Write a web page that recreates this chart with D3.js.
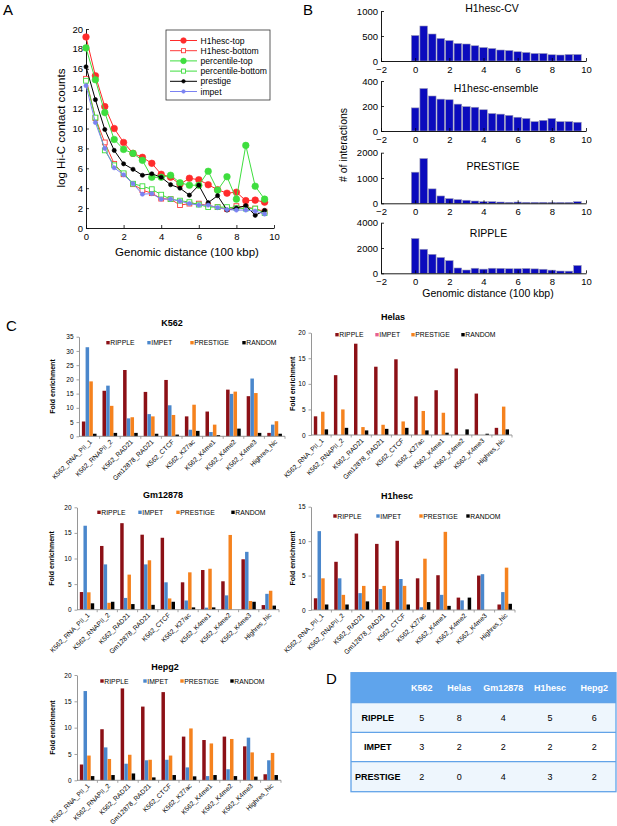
<!DOCTYPE html>
<html><head><meta charset="utf-8">
<script src="https://cdn.jsdelivr.net/npm/d3@7"></script>
<style>
body{margin:0;background:#fff}
svg{display:block}
text{font-family:"Liberation Sans",Arial,Helvetica,sans-serif}
</style>
</head><body>
<svg id="c" width="617" height="826"></svg>
<script>
// ---------------- DATA ----------------
// Panel A
const distA = [0,0.5,1,1.5,2,2.5,3,3.5,4,4.5,5,5.5,6,6.5,7,7.5,8,8.5,9,9.5];
const h1hescTop    = [19.2,15.3,12.2,10.0,8.6,7.5,7.1,6.5,5.4,5.1,4.4,5.0,4.85,4.35,3.85,3.5,3.6,2.75,2.8,2.6];
const h1hescBottom = [15.0,11.05,8.6,6.45,5.4,4.4,3.8,3.5,2.95,2.9,2.3,2.45,2.45,2.25,2.1,1.9,2.2,2.1,1.95,1.65];
const percTop      = [18.1,14.9,11.6,8.9,7.9,7.5,6.8,5.1,5.1,5.3,4.55,4.3,4.3,5.7,3.8,5.15,2.9,8.3,4.2,2.9];
const percBottom   = [14.8,11.1,7.8,6.3,5.5,4.45,4.2,3.9,3.35,2.9,2.75,2.6,2.35,2.1,2.1,2.1,2.0,1.95,1.95,1.5];
const prestigeA    = [16.2,12.9,9.9,7.8,6.45,5.9,5.3,5.45,5.1,4.35,4.0,3.3,4.3,2.55,3.25,1.8,2.0,2.25,1.27,1.77];
const impetA       = [14.3,10.6,8.0,6.05,5.35,4.45,3.4,3.45,2.9,2.9,2.7,2.45,2.3,2.3,2.05,1.85,1.8,1.8,1.7,1.4];
const aXTicks = [0,2,4,6,8,10];
const aYTicks = [0,2,4,6,8,10,12,14,16,18,20];

// Panel B
const distB = [0,0.5,1,1.5,2,2.5,3,3.5,4,4.5,5,5.5,6,6.5,7,7.5,8,8.5,9,9.5];
const cvCounts       = [510,700,540,450,410,350,340,305,270,250,220,210,185,170,150,150,125,120,130,130];
const ensembleCounts = [185,340,280,255,250,215,195,190,170,140,135,125,110,100,75,85,100,75,75,70];
const prestigeCounts = [1230,1770,570,290,185,145,120,90,65,65,50,40,50,40,40,40,35,35,35,65];
const rippleCountsB  = [2750,1900,1500,1250,1000,420,260,400,330,400,390,360,360,380,350,320,250,180,170,620];
const bXTicks = [-2,0,2,4,6,8,10];
const cvTicks = [0,500,1000];
const ensembleTicks = [0,200,400];
const prestigeTicks = [0,1000,2000];
const rippleTicksB = [0,2000,4000];

// Panel C
const categories = ["K562_RNA_PII_1","K562_RNAPII_2","K562_RAD21","Gm12878_RAD21","K562_CTCF","K562_K27ac","K562_K4me1","K562_K4me2","K562_K4me3","Highres_hic"];
const methods = ["RIPPLE","IMPET","PRESTIGE","RANDOM"];
const k562Ripple   = [5.2,16.0,23.3,15.6,19.8,7.0,8.7,16.4,14.1,1.2];
const k562Impet    = [31.3,17.8,6.3,7.8,10.9,2.3,1.5,14.9,20.3,4.1];
const k562Prestige = [19.3,10.7,6.7,7.0,7.5,11.1,4.1,15.7,15.2,5.3];
const k562Random   = [0.9,1.2,1.2,0.9,0.6,1.9,0.4,2.7,1.2,0.9];
const helasRipple   = [3.65,11.7,17.85,13.35,14.8,7.55,8.75,13.0,8.1,1.4];
const helasImpet    = [0,0,0,0,0,0,0,0,0,0];
const helasPrestige = [4.55,5.0,1.55,2.0,2.65,4.7,4.35,0,0,5.55];
const helasRandom   = [1.1,1.4,0.9,1.2,1.4,0.9,0.45,1.1,0.25,1.1];
const gmRipple   = [3.45,12.45,16.9,14.65,14.05,5.35,7.75,5.55,9.85,0.9];
const gmImpet    = [16.4,8.85,2.3,8.85,5.35,1.8,0.4,2.8,11.3,3.1];
const gmPrestige = [3.4,1.35,6.85,9.65,2.2,7.3,8.0,14.6,1.7,3.7];
const gmRandom   = [1.25,1.55,1.1,0.95,1.55,0.45,0.45,0,1.55,0.8];
const h1Ripple   = [1.7,7.0,11.1,9.6,10.05,4.6,5.05,1.8,5.0,0.8];
const h1Impet    = [11.45,4.6,2.45,3.05,4.5,0.4,2.2,1.4,5.2,2.6];
const h1Prestige = [4.6,2.2,3.5,3.5,3.5,7.45,11.35,0,0,6.15];
const h1Random   = [0.8,0.8,1.25,1.15,0.8,1.15,0.6,1.8,0,0.9];
const hepRipple   = [3.0,9.7,17.45,14.0,16.75,8.3,7.65,8.3,6.45,1.15];
const hepImpet    = [16.95,6.25,3.15,3.8,3.9,2.45,0.8,2.1,8.1,3.8];
const hepPrestige = [4.7,4.05,4.85,3.9,4.7,9.85,7.0,7.85,5.3,5.2];
const hepRandom   = [0.8,1.0,1.3,0.55,1.0,0.75,1.0,0.8,0.7,1.0];
const ticks35 = [0,5,10,15,20,25,30,35];
const ticks20 = [0,5,10,15,20];
const ticks15 = [0,5,10,15];

// Panel D
const tableCols = ["K562","Helas","Gm12878","H1hesc","Hepg2"];
const tableRows = ["RIPPLE","IMPET","PRESTIGE"];
const rippleWins   = [5,8,4,5,6];
const impetWins    = [3,2,2,2,2];
const prestigeWins = [2,0,4,3,2];

// ---------------- DRAWING ----------------
const svg = d3.select("#c");
svg.append("rect").attr("width",617).attr("height",826).attr("fill","#fff");

function styleAxis(g, fs, col){
  g.select(".domain").attr("stroke", col||"#000").attr("stroke-width",0.9);
  g.selectAll(".tick line").attr("stroke", col||"#000").attr("stroke-width",0.8);
  g.selectAll(".tick text").attr("font-size", fs).attr("fill","#000")
   .attr("font-family","Liberation Sans, Arial, sans-serif");
}

// panel letters
[["A",3,15],["B",303,15],["C",6,331],["D",326,684]].forEach(([t,x,y])=>{
  svg.append("text").attr("x",x).attr("y",y).attr("font-size",15).text(t);
});

// ---------- Panel A ----------
(function(){
  const x = d3.scaleLinear().domain([0,10]).range([86,274]);
  const y = d3.scaleLinear().domain([0,20]).range([228,29]);
  const g = svg.append("g");
  const gx = g.append("g").attr("transform","translate(0,228)")
    .call(d3.axisBottom(x).tickValues(aXTicks).tickSize(-3).tickSizeOuter(0).tickPadding(5));
  styleAxis(gx, 9.5);
  const gy = g.append("g").attr("transform","translate(86,0)")
    .call(d3.axisLeft(y).tickValues(aYTicks).tickSize(-3).tickSizeOuter(0).tickPadding(3));
  styleAxis(gy, 9.5);
  g.append("text").attr("x",187).attr("y",256).attr("text-anchor","middle").attr("font-size",11.5)
    .text("Genomic distance (100 kbp)");
  g.append("text").attr("transform","translate(65,128) rotate(-90)").attr("text-anchor","middle")
    .attr("font-size",11.5).text("log Hi-C contact counts");

  const series = [
    {name:"H1hesc-top", vals:h1hescTop, color:"#ff2b2b", m:"circle", fill:true, r:3.3},
    {name:"H1hesc-bottom", vals:h1hescBottom, color:"#ff3b3b", m:"square", fill:false, r:2.4},
    {name:"percentile-top", vals:percTop, color:"#3ede3e", m:"circle", fill:true, r:3.3},
    {name:"percentile-bottom", vals:percBottom, color:"#3ede3e", m:"square", fill:false, r:2.4},
    {name:"prestige", vals:prestigeA, color:"#000", m:"circle", fill:true, r:2.1},
    {name:"impet", vals:impetA, color:"#7b82f2", m:"circle", fill:true, r:2.1}
  ];
  const line = d3.line().x((d,i)=>x(distA[i])).y(d=>y(d));
  function marker(sel, s, cx, cy, k){
    const r = s.r*(k||1);
    if(s.m==="circle"){
      sel.append("circle").attr("cx",cx).attr("cy",cy).attr("r",r).attr("fill",s.color).attr("stroke",s.color).attr("stroke-width",0.6);
    } else {
      sel.append("rect").attr("x",cx-r).attr("y",cy-r).attr("width",2*r).attr("height",2*r)
        .attr("fill","#fff").attr("stroke",s.color).attr("stroke-width",0.9);
    }
  }
  series.forEach(s=>{
    const sg = g.append("g");
    sg.append("path").attr("d",line(s.vals)).attr("fill","none").attr("stroke",s.color).attr("stroke-width",1);
    s.vals.forEach((v,i)=>marker(sg,s,x(distA[i]),y(v)));
  });
  // legend
  const lg = g.append("g");
  lg.append("rect").attr("x",166).attr("y",30).attr("width",104).attr("height",70)
    .attr("fill","#fff").attr("stroke","#333").attr("stroke-width",0.8);
  series.forEach((s,i)=>{
    const yy = 40.5 + i*10.2;
    lg.append("line").attr("x1",170).attr("x2",197).attr("y1",yy).attr("y2",yy).attr("stroke",s.color).attr("stroke-width",1);
    marker(lg,s,183.5,yy,0.85);
    lg.append("text").attr("x",200.5).attr("y",yy+3).attr("font-size",8.6).text(s.name);
  });
})();

// ---------- Panel B ----------
(function(){
  const x = d3.scaleLinear().domain([-2,10]).range([381,586]);
  const subs = [
    {title:"H1hesc-CV", vals:cvCounts, ticks:cvTicks, max:1000, y0:61, y1:11, tx:492, ty:11.5},
    {title:"H1hesc-ensemble", vals:ensembleCounts, ticks:ensembleTicks, max:400, y0:131, y1:81, tx:496, ty:91.5},
    {title:"PRESTIGE", vals:prestigeCounts, ticks:prestigeTicks, max:2000, y0:203.3, y1:152.7, tx:493, ty:170},
    {title:"RIPPLE", vals:rippleCountsB, ticks:rippleTicksB, max:4000, y0:273.3, y1:222.7, tx:488.5, ty:237}
  ];
  subs.forEach(s=>{
    const y = d3.scaleLinear().domain([0,s.max]).range([s.y0,s.y1]);
    const g = svg.append("g");
    g.selectAll("rect.bar").data(s.vals).enter().append("rect")
      .attr("x",(d,i)=>x(distB[i]-0.222)).attr("width",x(0.222)-x(-0.222))
      .attr("y",d=>y(d)).attr("height",d=>s.y0-y(d))
      .attr("fill","#0b0bbd").attr("stroke","#9a9ab8").attr("stroke-width",0.6);
    const gx = g.append("g").attr("transform",`translate(0,${s.y0})`)
      .call(d3.axisBottom(x).tickValues(bXTicks).tickFormat(d=>d<0?"\u2212"+(-d):String(d)).tickSize(-3).tickSizeOuter(0).tickPadding(5));
    styleAxis(gx, 9.5);
    const gy = g.append("g").attr("transform","translate(381,0)")
      .call(d3.axisLeft(y).tickValues(s.ticks).tickFormat(d3.format("d")).tickSize(-3).tickSizeOuter(0).tickPadding(3));
    styleAxis(gy, 9.5);
    g.append("text").attr("x",s.tx).attr("y",s.ty).attr("text-anchor","middle").attr("font-size",10.5).text(s.title);
  });
  svg.append("text").attr("x",488).attr("y",297).attr("text-anchor","middle").attr("font-size",10.5)
    .text("Genomic distance (100 kbp)");
  svg.append("text").attr("transform","translate(347,145) rotate(-90)").attr("text-anchor","middle")
    .attr("font-size",10.5).text("# of interactions");
})();

// ---------- Panel C ----------
const methodColors = {RIPPLE:"#8c1016", IMPET:"#4a87cc", PRESTIGE:"#f5821e", RANDOM:"#000"};
function grouped(cfg){
  const g = svg.append("g");
  const x = d3.scaleBand().domain(categories).range([cfg.xL,cfg.xR]);
  const bw = x.bandwidth();
  const xi = d3.scaleBand().domain(methods).range([bw*0.14, bw*0.86]);
  const y = d3.scaleLinear().domain([0,cfg.yMax]).range([cfg.yBot,cfg.yTop]);
  const colors = Object.assign({}, methodColors, cfg.colors||{});
  methods.forEach((m,mi)=>{
    g.selectAll(null).data(cfg.series[mi]).enter().append("rect")
      .attr("x",(d,i)=>x(categories[i])+xi(m)).attr("width",xi.bandwidth()*0.95)
      .attr("y",d=>y(d)).attr("height",d=>cfg.yBot-y(d))
      .attr("fill",colors[m]);
  });
  const gy = g.append("g").attr("transform",`translate(${cfg.xL},0)`)
    .call(d3.axisLeft(y).tickValues(cfg.ticks).tickSize(2.5).tickSizeOuter(0).tickPadding(3));
  styleAxis(gy, 6.5, "#8a8a8a");
  g.append("line").attr("x1",cfg.xL).attr("x2",cfg.xR).attr("y1",cfg.yBot).attr("y2",cfg.yBot)
    .attr("stroke","#8a8a8a").attr("stroke-width",0.9);
  categories.forEach((c,i)=>{
    g.append("line").attr("x1",x(c)+bw).attr("x2",x(c)+bw).attr("y1",cfg.yBot).attr("y2",cfg.yBot+2.5)
      .attr("stroke","#8a8a8a").attr("stroke-width",0.8);
    const cx = x(c)+bw/2+3, cy = cfg.yBot+6;
    g.append("text").attr("transform",`translate(${cx},${cy}) rotate(-45)`).attr("text-anchor","end")
      .attr("font-size",6.7).text(c);
  });
  g.append("text").attr("x",cfg.tx).attr("y",cfg.ty).attr("text-anchor","middle")
    .attr("font-size",9).attr("font-weight","bold").text(cfg.title);
  g.append("text").attr("transform",`translate(${cfg.ylx},${(cfg.yBot+cfg.yTop)/2}) rotate(-90)`)
    .attr("text-anchor","middle").attr("font-size",7).attr("font-weight","bold").text("Fold enrichment");
  methods.forEach((m,mi)=>{
    const lx = cfg.lx[mi];
    g.append("rect").attr("x",lx-1.7).attr("y",cfg.ly-1.7).attr("width",3.4).attr("height",3.4).attr("fill",colors[m]);
    g.append("text").attr("x",lx+2.3).attr("y",cfg.ly+2.5).attr("font-size",6.8).text(m);
  });
}

grouped({title:"K562", series:[k562Ripple,k562Impet,k562Prestige,k562Random], ticks:ticks35, yMax:35,
  xL:79, xR:285, yBot:436.3, yTop:336.7, tx:172, ty:326, ly:342.7, lx:[108,149,192,244], ylx:55});
grouped({title:"Helas", series:[helasRipple,helasImpet,helasPrestige,helasRandom], ticks:ticks20, yMax:20,
  xL:311, xR:512, yBot:435, yTop:332.7, tx:393, ty:320, ly:334.7, lx:[337,377,413,463], ylx:295,
  colors:{IMPET:"#e8608e"}});
grouped({title:"Gm12878", series:[gmRipple,gmImpet,gmPrestige,gmRandom], ticks:ticks20, yMax:20,
  xL:77, xR:279, yBot:609.7, yTop:507.3, tx:163, ty:498, ly:512.3, lx:[99,140,178,233], ylx:54});
grouped({title:"H1hesc", series:[h1Ripple,h1Impet,h1Prestige,h1Random], ticks:ticks15, yMax:15,
  xL:311, xR:515, yBot:610, yTop:506.7, tx:397, ty:499, ly:516, lx:[335,378,421,468], ylx:295});
grouped({title:"Hepg2", series:[hepRipple,hepImpet,hepPrestige,hepRandom], ticks:ticks20, yMax:20,
  xL:77, xR:281, yBot:780.3, yTop:675, tx:165, ty:670, ly:681, lx:[102,145,182,232], ylx:55});

// ---------- Panel D ----------
(function(){
  const x0 = 351, x1 = 616;
  const rowY = [672.7,702.7,732.3,761.7,791.7];
  const colX = [421.7,459.3,503.3,550,594.3];
  const labelX = 377.7;
  const rowVals = [rippleWins, impetWins, prestigeWins];
  const g = svg.append("g");
  const fills = ["#5fa4ec","#eef6fd","#ffffff","#eef6fd"];
  for(let r=0;r<4;r++){
    g.append("rect").attr("x",x0).attr("y",rowY[r]).attr("width",x1-x0).attr("height",rowY[r+1]-rowY[r])
      .attr("fill",fills[r]);
  }
  for(let r=1;r<4;r++){
    g.append("line").attr("x1",x0).attr("x2",x1).attr("y1",rowY[r]).attr("y2",rowY[r]).attr("stroke","#62a3e8").attr("stroke-width",1.2);
  }
  g.append("rect").attr("x",x0).attr("y",rowY[0]).attr("width",x1-x0).attr("height",rowY[4]-rowY[0])
    .attr("fill","none").attr("stroke","#62a3e8").attr("stroke-width",1.3);
  const ff = "Liberation Sans Narrow, Liberation Sans, Arial, sans-serif";
  tableCols.forEach((c,i)=>{
    g.append("text").attr("x",colX[i]).attr("y",(rowY[0]+rowY[1])/2+3.2).attr("text-anchor","middle")
      .attr("font-size",9).attr("font-family",ff).attr("font-weight","bold").attr("fill","#fff").text(c);
  });
  tableRows.forEach((rname,r)=>{
    const cy = (rowY[r+1]+rowY[r+2])/2+3.2;
    g.append("text").attr("x",labelX).attr("y",cy).attr("text-anchor","middle")
      .attr("font-size",9).attr("font-family",ff).attr("font-weight","bold").text(rname);
    rowVals[r].forEach((v,i)=>{
      g.append("text").attr("x",colX[i]).attr("y",cy).attr("text-anchor","middle")
        .attr("font-size",9).attr("font-family",ff).text(v);
    });
  });
})();
</script>
</body></html>
